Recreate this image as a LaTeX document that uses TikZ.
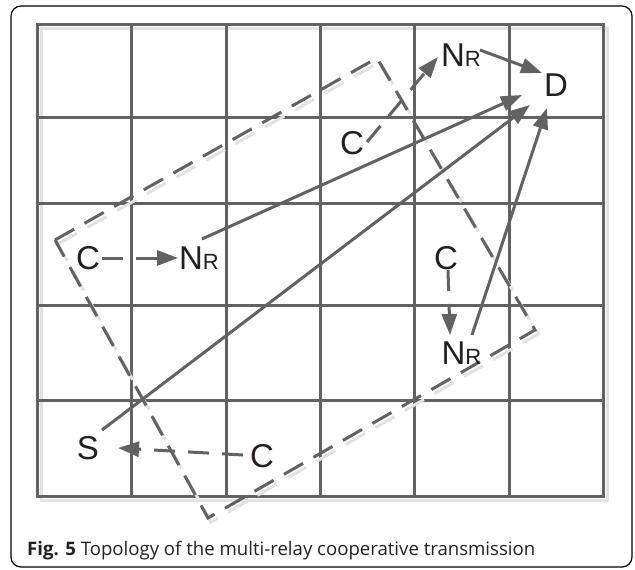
\documentclass[tikz,border=0pt]{standalone}
\usepackage{fontspec}
\setmainfont{Liberation Sans}
\newfontfamily\capfont{Open Sans}
\usepackage{tikz}
\usetikzlibrary{arrows.meta, calc}
\definecolor{figK}{RGB}{98,98,98}
\definecolor{figL}{RGB}{226,226,226}
\definecolor{figT}{RGB}{35,31,32}
\newcommand{\relay}{N{\fontsize{22}{22}\selectfont R}}

\begin{document}
\begin{tikzpicture}[x=1pt, y=-1pt,
  lbl/.style={font=\fontsize{33}{33}\selectfont, text=figT, inner sep=0pt},
  gridln/.style={figK, line width=3pt},
  sig/.style={-{Triangle[length=21pt, width=15pt]}, figK, line width=3pt},
  coop/.style={sig, dash pattern=on 21pt off 13pt},
  zone/.style={line width=3pt, dash pattern=on 22pt off 12pt}]
\useasboundingbox (0,0) rectangle (635,570);
\draw[black, line width=1.2pt, rounded corners=10pt] (11,6) rectangle (632,567);
% Grid with its drop shadow
\draw[figL, line width=3pt] (41,28) rectangle (607,500);
\draw[gridln] (37,24) rectangle (603,496);
\foreach \x in {131.5,226,320,414.5,509} \draw[gridln] (\x,24) -- (\x,496);
\foreach \y in {117,203,305,400} \draw[gridln] (37,\y) -- (603,\y);
% Dashed cooperation zone
\draw[zone, figL, shift={(3,4)}] (55,240) -- (377,58) -- (535,330) -- (208,518) -- cycle;
\draw[zone, figK] (55,240) -- (377,58) -- (535,330) -- (208,518) -- cycle;
% Terminals, cooperators and relays
\node[lbl] (S) at (88,448) {S};
\node[lbl] (D) at (556,85) {D};
\node[lbl] (RT) at (461,55) {\relay};
\node[lbl] (R1) at (199,258) {\relay};
\node[lbl] (R2) at (461.5,353) {\relay};
\node[lbl] (C1) at (352,143) {C};
\node[lbl] (C2) at (88,258) {C};
\node[lbl] (C3) at (446,258) {C};
\node[lbl] (C4) at (262,456) {C};
% Links
\draw[coop] ($(C1)+(15,-1)$) -- ($(RT)+(-23,2)$);
\draw[sig] ($(RT)+(19,-5)$) -- ($(D)+(-14,-12)$);
\draw[coop] ($(C2)+(14,0)$) -- ($(R1)+(-21,0)$);
\draw[sig] ($(R1)+(3,-19)$) -- ($(D)+(-34,10)$);
\draw[sig] ($(S)+(14,-18)$) -- ($(D)+(-26,20)$);
\draw[coop] ($(C3)+(2,12)$) -- ($(R2)+(-11.5,-18)$);
\draw[sig] ($(R2)+(10.5,-18)$) -- ($(D)+(-9,23)$);
\draw[coop] ($(C4)+(-19,-1)$) -- ($(S)+(30,0)$);
% Caption
\node[anchor=base west, inner sep=0pt, text=figT, font=\capfont\fontsize{18.6}{21}\selectfont] (cap) at (27,555) {\textbf{Fig. 5} Topology of the multi-relay cooperative transmission};
\end{tikzpicture}
\end{document}
